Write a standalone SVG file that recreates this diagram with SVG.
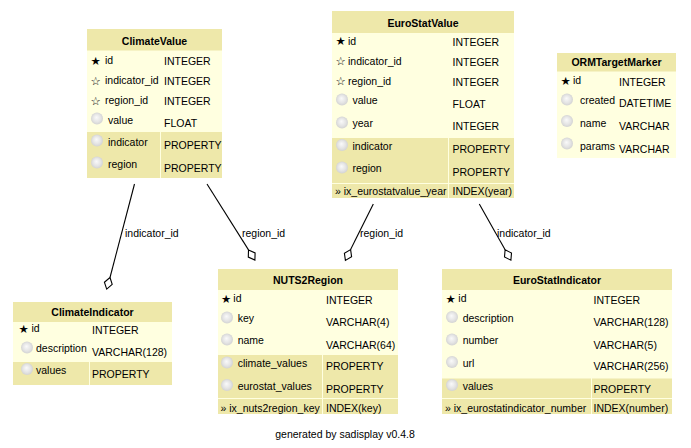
<svg xmlns="http://www.w3.org/2000/svg" width="691" height="448" viewBox="0 0 691 448">
<style>
text{font-family:"Liberation Sans",Arial,sans-serif;font-size:10.5px;fill:#000}
.t{font-weight:bold;text-anchor:middle}
.s{font-family:"DejaVu Sans",sans-serif;font-size:11.5px}
.body{fill:#ffffe0}
.hd{fill:#eee8aa}
.ic{fill:url(#g)}
.ln{stroke:#000;stroke-width:1.1;fill:none}
.dm{stroke:#000;stroke-width:1.1;fill:#fff}
</style>
<defs>
<radialGradient id="g" cx="0.5" cy="0.5" r="0.55" fx="0.45" fy="0.4">
<stop offset="0" stop-color="#fafafa"/>
<stop offset="0.6" stop-color="#e4e4e4"/>
<stop offset="1" stop-color="#cfcfcf"/>
</radialGradient>
</defs>
<rect width="691" height="448" fill="#fff"/>

<g id="connectors">
<line class="ln" x1="134.5" y1="184" x2="110" y2="277.5"/>
<polygon class="dm" points="110,277.5 112.2,284.4 106.7,289.1 104.4,282.3"/>
<text x="125" y="237">indicator_id</text>
<line class="ln" x1="207" y1="184" x2="248.5" y2="249.9"/>
<polygon class="dm" points="248.5,249.9 255.1,252.9 254.9,260.1 248.3,257.1"/>
<text x="242" y="237">region_id</text>
<line class="ln" x1="373.3" y1="204" x2="350.6" y2="249.6"/>
<polygon class="dm" points="350.6,249.6 351.6,256.8 345.4,260.4 344.4,253.2"/>
<text x="360" y="237">region_id</text>
<line class="ln" x1="479.3" y1="204" x2="505.1" y2="249.8"/>
<polygon class="dm" points="505.1,249.8 511.5,253 510.9,260.2 504.5,257"/>
<text x="497" y="237">indicator_id</text>
</g>

<g id="ClimateValue">
<rect class="body" x="87" y="29" width="135" height="149"/>
<rect class="hd" x="87" y="29" width="135" height="21.5"/>
<text class="t" x="154.5" y="44.5">ClimateValue</text>
<text class="s" x="90.5" y="64.5">★</text><text x="105" y="64">id</text><text x="164" y="65">INTEGER</text>
<text class="s" x="90.5" y="84.5">☆</text><text x="105" y="84">indicator_id</text><text x="164" y="85">INTEGER</text>
<text class="s" x="90.5" y="104.5">☆</text><text x="105" y="104">region_id</text><text x="164" y="104.7">INTEGER</text>
<circle class="ic" cx="97" cy="118.5" r="6"/><text x="108" y="123.5">value</text><text x="164" y="126.5">FLOAT</text>
<rect class="hd" x="87" y="132" width="73" height="46"/>
<rect class="hd" x="161" y="132" width="61" height="46"/>
<circle class="ic" cx="97" cy="140.5" r="6"/><text x="108" y="145.7">indicator</text><text x="164" y="149.3">PROPERTY</text>
<circle class="ic" cx="97" cy="162.5" r="6"/><text x="108" y="167.5">region</text><text x="164" y="172">PROPERTY</text>
</g>

<g id="EuroStatValue">
<rect class="body" x="332" y="11" width="182" height="187"/>
<rect class="hd" x="332" y="11" width="182" height="22"/>
<text class="t" x="423" y="26.7">EuroStatValue</text>
<text class="s" x="335.5" y="45.2">★</text><text x="348" y="44.7">id</text><text x="452.5" y="46.3">INTEGER</text>
<text class="s" x="335.5" y="65.2">☆</text><text x="348" y="64.7">indicator_id</text><text x="452.5" y="66.3">INTEGER</text>
<text class="s" x="335.5" y="85.2">☆</text><text x="348" y="84.7">region_id</text><text x="452.5" y="86.3">INTEGER</text>
<circle class="ic" cx="342" cy="99.5" r="6"/><text x="352.5" y="104">value</text><text x="452.5" y="108">FLOAT</text>
<circle class="ic" cx="342" cy="122.5" r="6"/><text x="352.5" y="127.3">year</text><text x="452.5" y="130">INTEGER</text>
<rect class="hd" x="332" y="138" width="116" height="45"/>
<rect class="hd" x="449" y="138" width="65" height="45"/>
<circle class="ic" cx="342" cy="145" r="6"/><text x="352.5" y="150">indicator</text><text x="452.5" y="153">PROPERTY</text>
<circle class="ic" cx="342" cy="167.5" r="6"/><text x="352.5" y="172.3">region</text><text x="452.5" y="176.3">PROPERTY</text>
<rect class="hd" x="332" y="184" width="116" height="14"/>
<rect class="hd" x="449" y="184" width="65" height="14"/>
<text x="335" y="195.3">» ix_eurostatvalue_year</text><text x="452.5" y="195.3">INDEX(year)</text>
</g>

<g id="ORMTargetMarker">
<rect class="body" x="557" y="53" width="119" height="105"/>
<rect class="hd" x="557" y="53" width="119" height="18.5"/>
<text class="t" x="616.5" y="65.7">ORMTargetMarker</text>
<text class="s" x="560.5" y="84.5">★</text><text x="573" y="84">id</text><text x="619" y="86.3">INTEGER</text>
<circle class="ic" cx="567" cy="99.5" r="6"/><text x="580" y="104">created</text><text x="619" y="106.7">DATETIME</text>
<circle class="ic" cx="567" cy="121" r="6"/><text x="580" y="126.7">name</text><text x="619" y="130">VARCHAR</text>
<circle class="ic" cx="567" cy="143.5" r="6"/><text x="580" y="150">params</text><text x="619" y="153">VARCHAR</text>
</g>

<g id="ClimateIndicator">
<rect class="body" x="13" y="302" width="159" height="83"/>
<rect class="hd" x="13" y="302" width="159" height="20"/>
<text class="t" x="92.5" y="316">ClimateIndicator</text>
<text class="s" x="18.5" y="332.8">★</text><text x="31.5" y="332.3">id</text><text x="92" y="334">INTEGER</text>
<circle class="ic" cx="27" cy="347.5" r="6"/><text x="36" y="352.3">description</text><text x="92" y="356.3">VARCHAR(128)</text>
<rect class="hd" x="13" y="362" width="76" height="23"/>
<rect class="hd" x="90" y="362" width="82" height="23"/>
<circle class="ic" cx="27" cy="369" r="6"/><text x="36" y="374">values</text><text x="92" y="378">PROPERTY</text>
</g>

<g id="NUTS2Region">
<rect class="body" x="218" y="269" width="180" height="145"/>
<rect class="hd" x="218" y="269" width="180" height="21"/>
<text class="t" x="308" y="284">NUTS2Region</text>
<text class="s" x="221" y="302.8">★</text><text x="233.3" y="302.3">id</text><text x="326" y="304">INTEGER</text>
<circle class="ic" cx="227" cy="317.5" r="6"/><text x="237.7" y="322.3">key</text><text x="326" y="326.3">VARCHAR(4)</text>
<circle class="ic" cx="227" cy="339.5" r="6"/><text x="237.7" y="344">name</text><text x="326" y="349">VARCHAR(64)</text>
<rect class="hd" x="218" y="355" width="104" height="43"/>
<rect class="hd" x="323" y="355" width="75" height="43"/>
<circle class="ic" cx="227" cy="362.5" r="6"/><text x="237.7" y="367.3">climate_values</text><text x="326" y="369.7">PROPERTY</text>
<circle class="ic" cx="227" cy="385" r="6"/><text x="237.7" y="389.7">eurostat_values</text><text x="326" y="393">PROPERTY</text>
<rect class="hd" x="218" y="399" width="104" height="15"/>
<rect class="hd" x="323" y="399" width="75" height="15"/>
<text x="220.5" y="412.3">» ix_nuts2region_key</text><text x="326" y="412.3">INDEX(key)</text>
</g>

<g id="EuroStatIndicator">
<rect class="body" x="442" y="269" width="230" height="145"/>
<rect class="hd" x="442" y="269" width="230" height="21"/>
<text class="t" x="557" y="284">EuroStatIndicator</text>
<text class="s" x="445.5" y="302.8">★</text><text x="458.3" y="302.3">id</text><text x="593.5" y="304">INTEGER</text>
<circle class="ic" cx="452" cy="317" r="6"/><text x="462.7" y="321.7">description</text><text x="593.5" y="325.7">VARCHAR(128)</text>
<circle class="ic" cx="452" cy="339.5" r="6"/><text x="462.7" y="344">number</text><text x="593.5" y="349">VARCHAR(5)</text>
<circle class="ic" cx="452" cy="362" r="6"/><text x="462.7" y="367.3">url</text><text x="593.5" y="369.7">VARCHAR(256)</text>
<rect class="hd" x="442" y="378.5" width="149" height="19.5"/>
<rect class="hd" x="592" y="378.5" width="80" height="19.5"/>
<circle class="ic" cx="452" cy="385" r="6"/><text x="462.7" y="389.7">values</text><text x="593.5" y="393">PROPERTY</text>
<rect class="hd" x="442" y="399" width="149" height="15"/>
<rect class="hd" x="592" y="399" width="80" height="15"/>
<text x="445" y="412.3">» ix_eurostatindicator_number</text><text x="593.5" y="412.3">INDEX(number)</text>
</g>

<text x="345" y="438" style="text-anchor:middle">generated by sadisplay v0.4.8</text>
</svg>
